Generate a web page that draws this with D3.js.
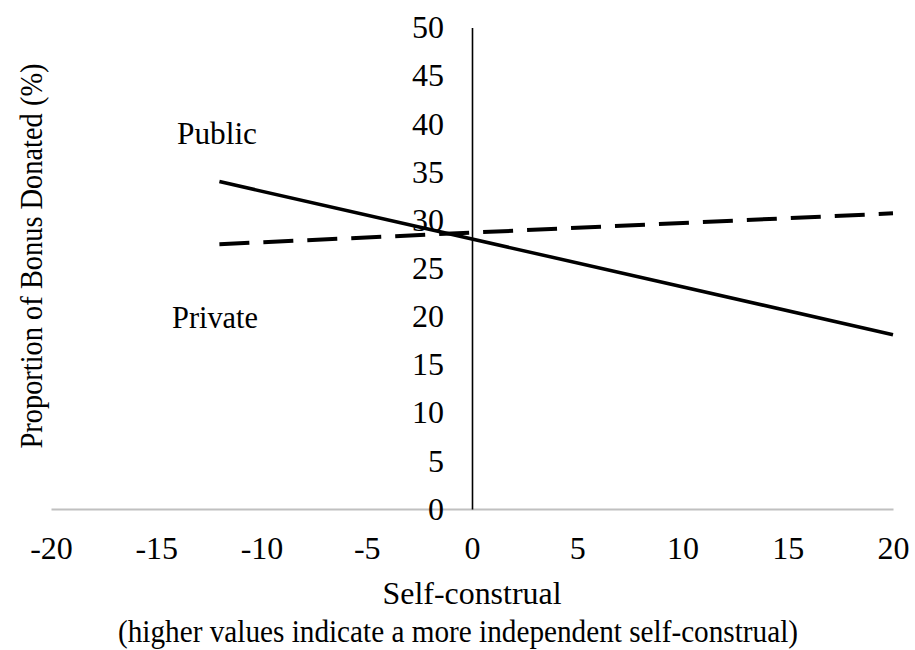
<!DOCTYPE html>
<html>
<head>
<meta charset="utf-8">
<script src="https://cdn.jsdelivr.net/npm/d3@7/dist/d3.min.js"></script>
<style>
  html, body { margin: 0; padding: 0; background: #fff; }
  svg text { font-family: "Liberation Serif", "Times New Roman", serif; fill: #000; }
</style>
</head>
<body>
<svg id="chart" width="915" height="650"></svg>
<script>
// ---- data ----
const xTicks = [-20, -15, -10, -5, 0, 5, 10, 15, 20];
const yTicks = [0, 5, 10, 15, 20, 25, 30, 35, 40, 45, 50];
const selfConstrual = [-12, 20];
const publicValues = [34.0, 18.1];
const privateValues = [27.5, 30.7];
const seriesLabels = ["Public", "Private"];
const xTitle = "Self-construal";
const xSubtitle = "(higher values indicate a more independent self-construal)";
const yTitle = "Proportion of Bonus Donated (%)";

// ---- layout ----
const svg = d3.select("#chart");
const x = d3.scaleLinear().domain([-20, 20]).range([51, 893]);
const y = d3.scaleLinear().domain([0, 50]).range([509, 27.5]);
const FS = 32;
const fmt = d => String(d);

// x axis (gray line at y=0, labels below)
const xAxis = svg.append("g")
  .attr("transform", `translate(0,${y(0)})`)
  .call(d3.axisBottom(x).tickValues(xTicks).tickSize(0).tickSizeOuter(0).tickPadding(27)
        .tickFormat(fmt));
xAxis.select(".domain").attr("stroke", "#c0c0c0").attr("stroke-width", 2);
xAxis.selectAll("text").attr("font-size", FS).attr("font-family", "Liberation Serif, Times New Roman, serif");

// y axis (black line at x=0, labels to the left)
const yAxis = svg.append("g")
  .attr("transform", `translate(${x(0)},0)`)
  .call(d3.axisLeft(y).tickValues(yTicks).tickSize(0).tickSizeOuter(0).tickPadding(28)
        .tickFormat(fmt));
yAxis.select(".domain").attr("stroke", "#000").attr("stroke-width", 1.6);
yAxis.selectAll("text").attr("font-size", FS).attr("font-family", "Liberation Serif, Times New Roman, serif");

// lines
const line = d3.line().x(d => x(d[0])).y(d => y(d[1]));
const pubData = selfConstrual.map((v, i) => [v, publicValues[i]]);
const privData = selfConstrual.map((v, i) => [v, privateValues[i]]);

svg.append("path").datum(privData)
  .attr("d", line).attr("fill", "none").attr("stroke", "#000")
  .attr("stroke-width", 4).attr("stroke-dasharray", "30,14");

svg.append("path").datum(pubData)
  .attr("d", line).attr("fill", "none").attr("stroke", "#000")
  .attr("stroke-width", 3.5);

// series labels
svg.append("text").attr("x", 177).attr("y", 144).attr("font-size", FS)
  .attr("textLength", 80).attr("lengthAdjust", "spacingAndGlyphs").text(seriesLabels[0]);
svg.append("text").attr("x", 172).attr("y", 328).attr("font-size", FS)
  .attr("textLength", 86).attr("lengthAdjust", "spacingAndGlyphs").text(seriesLabels[1]);

// axis titles
svg.append("text").attr("x", x(0)).attr("y", 604).attr("text-anchor", "middle")
  .attr("font-size", FS).attr("textLength", 179).attr("lengthAdjust", "spacingAndGlyphs").text(xTitle);
svg.append("text").attr("x", 458).attr("y", 642).attr("text-anchor", "middle")
  .attr("font-size", FS).attr("textLength", 680).attr("lengthAdjust", "spacingAndGlyphs").text(xSubtitle);
svg.append("text")
  .attr("transform", `translate(42,256) rotate(-90)`)
  .attr("text-anchor", "middle")
  .attr("font-size", FS).attr("textLength", 385).attr("lengthAdjust", "spacingAndGlyphs").text(yTitle);
</script>
</body>
</html>
